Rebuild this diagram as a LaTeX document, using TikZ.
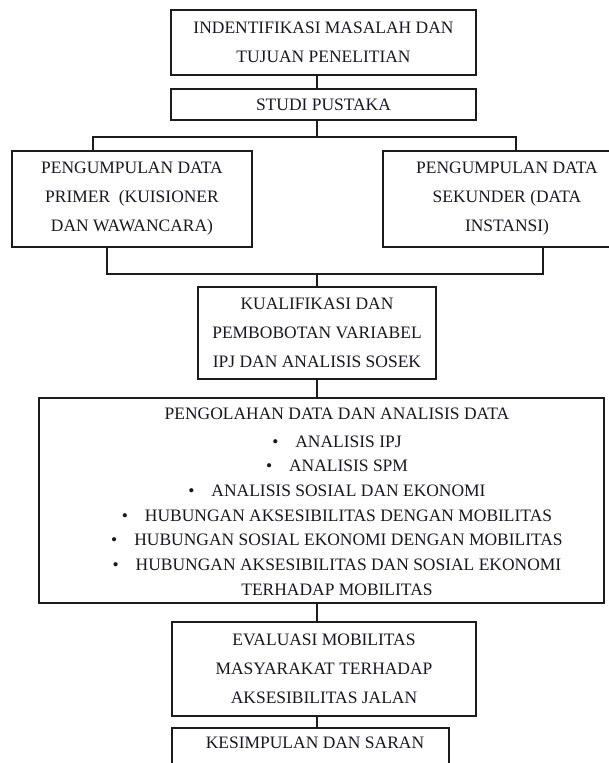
\documentclass[tikz,border=0pt]{standalone}
\usepackage{fontspec}
\setmainfont{Liberation Serif}
\definecolor{txtc}{RGB}{22,22,36}
\definecolor{linec}{RGB}{28,28,28}
\newcommand\boxfont{\fontsize{13.1}{21.75}\selectfont}
\newcommand\listfont{\fontsize{13.1}{18.5}\selectfont}
\newcommand\itm[1]{\textbullet\hspace{0.97em}#1}
\begin{document}
\begin{tikzpicture}[x=0.75pt,y=-0.75pt,
  box/.style={draw=linec, line width=0.9pt, inner sep=0pt, align=center, font=\boxfont, text=txtc},
  txt/.style={inner sep=0pt, align=center, font=\boxfont, text=txtc},
  conn/.style={draw=linec, line width=0.9pt}]
\useasboundingbox (0,0) rectangle (609,763);
\clip (0,0) rectangle (609,763);

% boxes
\node[box, minimum width=228.75pt, minimum height=48.75pt] (b1) at (323.5,42.5) {INDENTIFIKASI MASALAH DAN\\TUJUAN PENELITIAN};
\node[box, minimum width=228.75pt, minimum height=23.25pt] (b2) at (323.5,104.5) {STUDI PUSTAKA};
\node[box, minimum width=180pt, minimum height=72pt] (L) at (132,199) {PENGUMPULAN DATA\\PRIMER\ \ (KUISIONER\\DAN WAWANCARA)};
\node[box, minimum width=186pt, minimum height=72pt] (R) at (507,199) {PENGUMPULAN DATA\\SEKUNDER (DATA\\INSTANSI)};
\node[box, minimum width=178.5pt, minimum height=69pt] (K) at (317,333) {KUALIFIKASI DAN\\PEMBOBOTAN VARIABEL\\IPJ DAN ANALISIS SOSEK};
\node[box, minimum width=423.75pt, minimum height=153.75pt] (big) at (321.5,500.5) {};
\node[txt, font=\listfont] (bigtxt) at (337,501.5) {PENGOLAHAN DATA DAN ANALISIS DATA\\[2.5pt]
  \itm{ANALISIS IPJ}\\
  \itm{ANALISIS SPM}\\
  \itm{ANALISIS SOSIAL DAN EKONOMI}\\
  \itm{HUBUNGAN AKSESIBILITAS DENGAN MOBILITAS}\\
  \itm{HUBUNGAN SOSIAL EKONOMI DENGAN MOBILITAS}\\
  \itm{HUBUNGAN AKSESIBILITAS DAN SOSIAL EKONOMI}\\
  TERHADAP MOBILITAS};
\node[box, minimum width=228pt, minimum height=70.5pt] (E) at (324,669) {EVALUASI MOBILITAS\\MASYARAKAT TERHADAP\\AKSESIBILITAS JALAN};
\node[box, minimum width=207.75pt, minimum height=48pt] (S) at (310.5,760) {};
\node[txt] (stxt) at (315,743) {KESIMPULAN DAN SARAN};

% routing coordinates
\coordinate (spine) at (317,0);
\coordinate (lt) at (93,137);
\coordinate (rt) at (516,137);
\coordinate (lb) at (107,274);
\coordinate (rb) at (543,274);

% connectors
\draw[conn] (b1.south -| spine) -- (b2.north -| spine);
\draw[conn] (b2.south -| spine) -- (spine |- lt);
\draw[conn] (L.north -| lt) -- (lt) -- (rt) -- (R.north -| rt);
\draw[conn] (L.south -| lb) -- (lb) -- (rb) -- (R.south -| rb);
\draw[conn] (spine |- lb) -- (K.north -| spine);
\draw[conn] (K.south -| spine) -- (big.north -| spine);
\draw[conn] (big.south -| spine) -- (E.north -| spine);
\draw[conn] (E.south -| spine) -- (S.north -| spine);
\end{tikzpicture}
\end{document}
